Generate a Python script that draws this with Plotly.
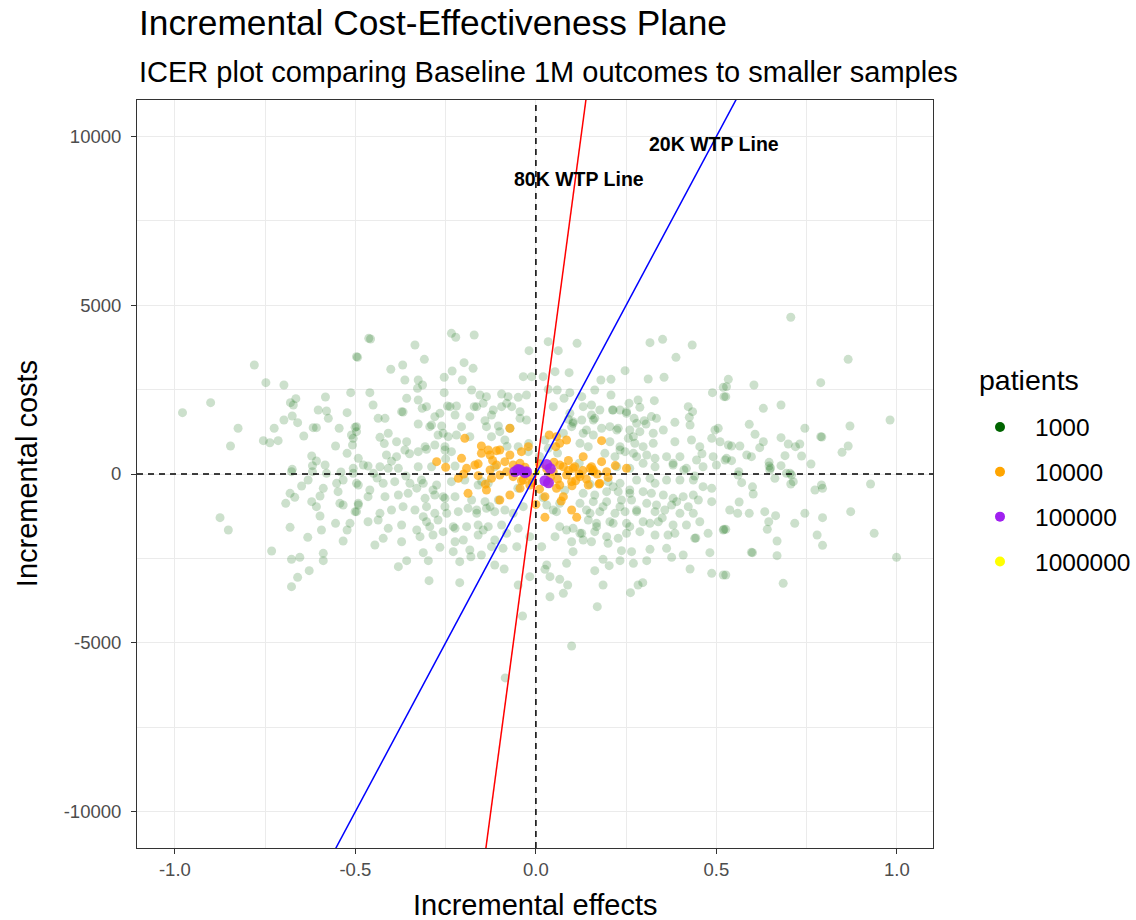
import plotly.graph_objects as go

# ---- simulated incremental outcomes, 1000-patient samples ----
effects_1000 = [
    -0.780, -0.748, -0.698, -0.901, -0.979, -0.497, -0.513, -0.583, -0.665, -0.680,
    -0.672, -0.603, -0.580, -0.575, -0.523, -0.675, -0.698, -0.660, -0.725, -0.825,
    -0.617, -0.608, -0.545, -0.501, -0.643, -0.511, -0.506, -0.755, -0.737, -0.714,
    -0.846, -0.555, -0.508, -0.523, -0.621, -0.608, -0.584, -0.619, -0.675, -0.506, -0.492,
    -0.463, -0.458, -0.335, -0.234, -0.222, -0.171, -0.494, -0.309, -0.019, -0.402, -0.369,
    -0.199, -0.174, -0.232, -0.254, -0.204, -0.363, -0.326, -0.314, -0.328,
    -0.035, -0.012, -0.460, -0.254, -0.178, -0.155, -0.137, -0.095, -0.077, -0.049, -0.026,
    -0.358, -0.326, -0.451, -0.315, -0.372, -0.368, -0.245, -0.220, -0.171, -0.146, -0.095, -0.067,
    -0.280, -0.224, -0.183, -0.123, -0.044, -0.437, -0.418, -0.497, -0.497,
    -0.326, -0.289, -0.261, -0.206, -0.141, -0.104, -0.072,
    -0.409, -0.432, -0.386, -0.358, -0.271, -0.243, -0.220, -0.183,
    -0.326, -0.303, -0.280, -0.252, -0.234, -0.123, -0.086, -0.049, -0.021,
    -0.414, -0.386, -0.363, -0.478, -0.465, -0.432, -0.409, -0.381, -0.326, -0.289, -0.224, -0.114,
    0.034, 0.114, 0.062, 0.316, 0.351, 0.433, 0.388,
    0.053, 0.092, 0.020, 0.247, 0.180, 0.208, 0.311, 0.355,
    0.034, 0.059, 0.094, 0.163, 0.208, 0.078, 0.127,
    0.283, 0.328, 0.489, 0.519, 0.521,
    0.154, 0.177, 0.258, 0.288, 0.422, 0.434, 0.425, 0.212, 0.233, 0.251,
    0.154, 0.163, 0.127, 0.103, 0.090, 0.272, 0.334, 0.305, 0.385,
    0.427, 0.496, 0.505, 0.182, 0.205, 0.228, 0.260,
    0.131, 0.159, 0.288, 0.325, 0.353,
    0.385, 0.431, 0.454, 0.510, 0.533, 0.487,
    0.122, 0.145, 0.205, 0.233, 0.256, 0.274, 0.297, 0.325,
    0.191, 0.219, 0.247, 0.279, 0.307, 0.330, 0.362, 0.399, 0.445, 0.491, 0.524,
    0.224, 0.260, 0.297, 0.330, 0.380, 0.417, 0.463, 0.500,
    0.099, 0.076, 0.025, 0.034,
    0.706, 0.865, 0.789, 0.533, 0.528, 0.526, 0.604,
    0.630, 0.679, 0.981, 0.870, 0.591, 0.607, 0.745, 0.789, 0.792,
    0.542, 0.565, 0.630, 0.620, 0.679, 0.699, 0.719, 0.731,
    0.865, 0.848, 0.584, 0.597, 0.528, 0.542, 0.690, 0.736,
    0.646, 0.646, 0.679, 0.762, 0.562, 0.704,
    0.560, 0.570, 0.648, 0.662, 0.694, 0.708, 0.706, 0.713,
    0.773, 0.791, 0.794, 0.927, 0.602,
    0.563, 0.537, 0.559, 0.591, 0.634, 0.664, 0.645, 0.641,
    0.717, 0.745, 0.794, 0.872, 0.937, 0.779, 0.794,
    0.668, 0.597, 0.600, 0.668, 0.526, 0.526, 0.685, 0.999,
    0.200, 0.233, 0.279, 0.316, 0.330, 0.362, 0.399, 0.436, 0.463, 0.487,
    0.131, 0.163, 0.196, 0.228, 0.260, 0.297, 0.320,
    0.353, 0.380, 0.408, 0.436, 0.450, 0.487,
    0.122, 0.159, 0.196, 0.237, 0.265, 0.307, 0.334, 0.376, 0.390, 0.422,
    0.066, 0.057, 0.030,
    0.150, 0.177, 0.219, 0.247, 0.279, 0.330, 0.357, 0.399, 0.436, 0.454,
    0.145, 0.168, 0.205, 0.251, 0.297, 0.316, 0.339, 0.380, 0.417,
    0.085, 0.103, 0.127, 0.163, 0.196, 0.228, 0.251, 0.288, 0.330, 0.366, 0.385, 0.440, 0.443, 0.477, 0.519,
    0.053, 0.099, 0.131, 0.154,
    0.016, 0.103, 0.237, 0.265, 0.316, 0.362, 0.376, 0.408, 0.482,
    0.030, 0.085, 0.186, 0.203, 0.233, 0.270, 0.307,
    0.025, 0.039, 0.066, 0.088, 0.163, 0.186, 0.427, 0.487, 0.519,
    0.039, 0.076, 0.170, 0.262, 0.283, 0.296,
    0.099, 0.521,
    -0.492, -0.460, -0.423, -0.391, -0.349, -0.317, -0.275, -0.234, -0.197, -0.160, -0.132,
    -0.465, -0.418, -0.381, -0.354, -0.307, -0.280, -0.252, -0.224, -0.178, -0.141, -0.104,
    -0.492, -0.497,
    -0.432, -0.400, -0.368, -0.335, -0.312, -0.280, -0.252, -0.215, -0.188, -0.164, -0.137, -0.114, -0.086,
    -0.465, -0.437, -0.409, -0.372, -0.330, -0.303, -0.271, -0.224, -0.192, -0.160, -0.132, -0.095, -0.049,
    -0.446, -0.423, -0.372, -0.321, -0.285, -0.257, -0.224, -0.201, -0.183, -0.160, -0.114, -0.053, -0.017,
    -0.266, -0.229, -0.151, -0.123, -0.091,
    -0.381, -0.358, -0.312, -0.298, -0.211, -0.114, -0.088,
    -0.296, -0.211, -0.049, -0.017,
    -0.037, -0.085,
    -0.875, -0.852, -0.732, -0.681, -0.677, -0.654, -0.660, -0.677, -0.628, -0.589, -0.589, -0.632, -0.594,
    -0.555, -0.534, -0.523, -0.515,
    -0.693, -0.681, -0.668, -0.649, -0.631, -0.589, -0.598, -0.621, -0.608, -0.598,
    -0.552, -0.548, -0.534, -0.506, -0.497, -0.543, -0.534, -0.501, -0.492,
    -0.677, -0.619, -0.580,
    -0.303, -0.266, -0.238, -0.294, -0.257, -0.307, -0.252, -0.312, -0.285, -0.257, -0.303, -0.247, -0.294, -0.229,
    0.214, 0.251, 0.279, 0.224, 0.270, 0.233, 0.270, 0.214, 0.260, 0.233, 0.279, 0.214, 0.260,
    -0.164, -0.118, -0.081, -0.044, -0.026, 0.048, 0.094, 0.131, 0.159, -0.137, -0.100, 0.103, 0.140,
    -0.164, -0.127, -0.063, -0.035, 0.048, 0.066, 0.140, 0.168, -0.146, -0.081, 0.122, 0.186,
    0.010, -0.050, 0.060, -0.020, 0.020, 0.120, -0.150, 0.080, -0.080, 0.150,
    -0.450, -0.440, -0.540, -0.400, -0.360, 0.410, 0.440, 0.380, 0.600, 0.650,
    -0.350, -0.330, 0.350, 0.320, -0.180, 0.200, -0.420, 0.460, -0.250, 0.300,
]
costs_1000 = [
    3230, 2705, 2637, 2113, 1817, 3476, 2409, 2282, 2231, 2113,
    2044, 1896, 1867, 1650, 1817, 1719, 1600, 1520, 1354, 1354,
    1372, 1372, 1354, 1383, 1126, 1156, 1057, 987, 927, 987,
    830, 830, 859, 612, 533, 385, 267, 247, 138, 168, 464,
    4020, 4000, 3822, 4168, 4050, 4118, 3457, 3397, 3654, 3102, 3230,
    3298, 3131, 3052, 2865, 2785, 2785, 2785, 2637, 2538,
    2883, 2883, 2409, 2409, 2489, 2341, 2291, 2370, 2291, 2272, 2341,
    2243, 2193, 2044, 1947, 1846, 1836, 2015, 2015, 1995, 2094, 1995, 1995,
    1699, 1748, 1699, 1748, 1650, 1650, 1650, 1403, 1254,
    1481, 1452, 1422, 1403, 1580, 1422, 1354,
    1206, 1087, 957, 957, 1156, 1106, 1156, 1106,
    661, 732, 859, 809, 661, 1106, 1007, 809, 661,
    563, 513, 711, 267, 237, 216, 168, 168, 216, 216, 237, 216,
    3921, 3871, 3654, 3891, 3990, 3822, 3457,
    3032, 3003, 2883, 3062, 2785, 2805, 2815, 2865,
    2508, 2489, 2409, 2489, 2341, 2243, 2291,
    2193, 2173, 2409, 2568, 2291,
    2044, 1896, 2094, 1975, 1995, 1846, 1679, 1896, 1896, 1846,
    1748, 1650, 1600, 1551, 1620, 1650, 1650, 1481, 1531,
    1452, 1304, 1354, 1354, 1403, 1354, 1304,
    1206, 1156, 1254, 1206, 1304,
    957, 1007, 809, 957, 859, 1057,
    909, 809, 957, 809, 1057, 909, 809, 909,
    612, 513, 661, 513, 563, 464, 513, 513, 415, 513, 415,
    216, 168, 316, 216, 267, 168, 216, 267,
    1403, 1206, 1007, 761,
    4643, 3397, 2706, 2805, 2587, 2291, 2637,
    1946, 2044, 1600, 1422, 1472, 1176, 1354, 1106, 1096,
    830, 830, 957, 780, 1077, 889, 809, 889,
    830, 642, 563, 513, 464, 395, 543, 533,
    346, 237, 247, 296, 69, 20,
    -30, -257, 119, -128, 20, -30, -296, -227,
    -474, -326, -424, -296, -593,
    -830, -1067, -1166, -1166, -1116, -1235, -1413, -1640,
    -1462, -1166, -1294, -1116, -1758, -1808, -2113,
    -1985, -2321, -2331, -2420, -1640, -2993, -3239, -2469,
    -227, -276, -178, -128, -276, -178, -178, -178, -375, -424,
    -573, -622, -523, -523, -474, -523, -573,
    -622, -721, -672, -622, -770, -820,
    -869, -820, -820, -770, -770, -869, -918, -918, -820, -968,
    -869, -1116, -918,
    -1166, -1116, -1166, -1116, -1116, -1116, -1067, -1166, -1166, -1413,
    -1363, -1462, -1413, -1462, -1413, -1462, -1413, -1511, -1511,
    -1659, -1610, -1758, -1709, -1857, -1906, -1758, -1709, -1808, -1808, -1758, -1906, -1896, -1758, -1659,
    -1857, -2006, -1956, -2006,
    -2153, -2301, -2272, -2301, -2232, -2202, -2469, -2400, -2331,
    -2696, -2647, -2528, -2716, -2568, -2647, -2568,
    -2824, -3042, -3121, -3289, -2864, -3289, -2815, -2943, -2993,
    -3635, -3536, -3931, -3516, -3289, -3220,
    -5096, -1640,
    -326, -474, -276, -227, -276, -178, -326, -227, -178, -326, -276,
    -672, -672, -622, -573, -721, -622, -721, -672, -770, -820, -770,
    -869, -1116,
    -1166, -1067, -968, -1067, -1264, -1166, -968, -1116, -1017, -1166, -1017, -1116, -1067,
    -1413, -1363, -1610, -1511, -1659, -1413, -1363, -1610, -1561, -1511, -1561, -1511, -1610,
    -2104, -1906, -2006, -1857, -1808, -1709, -2006, -1956, -2252, -1808, -1956, -2153, -1857,
    -2173, -2301, -2400, -2153, -2202,
    -2745, -2568, -2331, -2568, -2597, -2696, -2815,
    -3160, -3220, -3289, -3042,
    -4208, -6040,
    -1294, -1659, -2282, -1580, -2528, -2469, -3062, -3338, -2864, -2351, -2568, -1877, -1659,
    -1462, -1985, -1659, -1462,
    -869, -573, -691, -356, -178, -424, -652, -820, -968, -1245,
    -276, -523, -178, 20, -276, -869, -918, -1116, -918,
    69, 69, 20,
    1995, 1797, 1995, 1403, 1206, 809, 711, -276, -474, -672, -968, -1166, -1561, -1561,
    1896, 1797, 1501, 1304, 1106, 711, 612, -375, -573, -968, -1067, -1462, -1561,
    1995, 1896, 2094, 1846, 1600, 1995, 1797, 1995, 1600, 1403, 1254, 1501, 1304,
    -1067, -968, -1166, -968, -1067, -1561, -1067, -1561, -1659, -1758, -1758, -968,
    520, -420, 620, 900, -700, 320, -220, -480, 820, -300,
    20, -120, 60, 380, -60, 120, -60, 320, -380, 180,
    600, -420, -1300, 1700, -2450, -2050, 900, 600, 450, 1580,
]

# ---- 10000-patient samples ----
effects_10000 = [
    -0.072, -0.197, 0.182, 0.057, 0.085, 0.066,
    -0.151, -0.132, -0.109, -0.127, -0.151, -0.040, -0.072,
    -0.275, -0.206, -0.169, -0.192,
    -0.086, -0.109, -0.063, -0.044, -0.081, -0.100, -0.127, -0.123, -0.063,
    0.131, 0.182, 0.154, 0.108, 0.076, 0.048, 0.085, 0.122, 0.159, 0.196, 0.251,
    -0.215, -0.188, -0.137, -0.100, -0.072, -0.044, -0.017,
    0.025, 0.076, 0.034, 0.066, 0.099, 0.145, 0.177,
    0.099, 0.113, 0.025, -0.017, -0.035,
    0.175, 0.057, 0.037, 0.055,
    0.066, 0.103, 0.150, 0.159, -0.021, -0.100,
    -0.030, 0.010, 0.040, 0.090, 0.120, -0.010, 0.060, 0.100, -0.050, 0.030, 0.140, 0.170, -0.160, -0.140,
    -0.120, -0.160, -0.040, 0.010, 0.050, 0.090, 0.110, 0.130, 0.200, 0.220, -0.200, -0.250, 0.070, 0.000,
]
costs_10000 = [
    1354, 1057, 987, 1106, 1007, 909,
    830, 711, 691, 563, 612, 661, 563,
    365, 464, 267, 168,
    365, 267, 267, 316, 69, -30, 119, -128, -79,
    513, 365, 216, 216, 216, 69, -30, -79, 69, 69, 168,
    -128, -573, -474, -770, -622, -424, -326,
    -672, -672, -276, -326, -227, -326, -276,
    -1067, -1284, -1284, -79, -178,
    -296, -424, 1156, 809,
    267, 168, 168, 119, 809, 711,
    200, 300, -100, 100, 0, -250, -150, -350, 150, 150, -150, 0, -50, -300,
    400, 300, -200, -450, 350, 400, -200, 100, -100, 250, 0, 200, -800, -900,
]

# ---- 100000-patient samples ----
effects_100000 = [-0.044, -0.026, -0.058, -0.050, -0.030, 0.030, 0.040, 0.025, 0.035]
costs_100000 = [119, 69, 69, 130, 40, 280, 160, -200, -260]

# ---- 1000000-patient baseline ----
effects_1000000 = [0.003]
costs_1000000 = [60]

# willingness-to-pay thresholds (cost per unit of effect)
wtp_values = [80000, 20000]
wtp_labels = ["80K WTP Line", "20K WTP Line"]
wtp_colors = ["red", "blue"]
wtp_label_x = [0.119, 0.493]
wtp_label_y = [8726, 9778]

FONT = "Liberation Sans, Arial, sans-serif"
GREEN, ORANGE, PURPLE, YELLOW = "#006400", "#FFA500", "#A020F0", "#FFFF00"

fig = go.Figure()

fig.add_trace(go.Scatter(
    x=effects_1000, y=costs_1000, mode="markers", showlegend=False,
    marker=dict(color=GREEN, size=9, opacity=0.2, line=dict(width=0)),
    hoverinfo="skip"))
fig.add_trace(go.Scatter(
    x=effects_10000, y=costs_10000, mode="markers", showlegend=False,
    marker=dict(color=ORANGE, size=9, opacity=0.7, line=dict(width=0)),
    hoverinfo="skip"))
fig.add_trace(go.Scatter(
    x=effects_100000, y=costs_100000, mode="markers", showlegend=False,
    marker=dict(color=PURPLE, size=11, opacity=0.85, line=dict(width=0)),
    hoverinfo="skip"))
fig.add_trace(go.Scatter(
    x=effects_1000000, y=costs_1000000, mode="markers", showlegend=False,
    marker=dict(color=YELLOW, size=6, opacity=1, line=dict(width=0)),
    hoverinfo="skip"))

# legend keys (solid colours)
legend_names = ["1000", "10000", "100000", "1000000"]
legend_colors = [GREEN, ORANGE, PURPLE, YELLOW]
for name, col in zip(legend_names, legend_colors):
    fig.add_trace(go.Scatter(
        x=[None], y=[None], mode="markers", name=name, legendgroup=name,
        marker=dict(color=col, size=10)))

# WTP threshold lines through the origin
line_x = [-1.3, 1.3]
for w, col in zip(wtp_values, wtp_colors):
    fig.add_trace(go.Scatter(
        x=line_x, y=[w * v for v in line_x], mode="lines", showlegend=False,
        line=dict(color=col, width=1.5), hoverinfo="skip"))

# quadrant reference lines
fig.add_hline(y=0, line=dict(color="black", width=1.5, dash="6px,5px"))
fig.add_vline(x=0, line=dict(color="black", width=1.5, dash="6px,5px"))

for txt, lx, ly in zip(wtp_labels, wtp_label_x, wtp_label_y):
    fig.add_annotation(x=lx, y=ly, text=f"<b>{txt}</b>", showarrow=False,
                       font=dict(family=FONT, size=19.5, color="black"))

# titles
fig.add_annotation(xref="paper", yref="paper", x=0, y=1.104, xanchor="left", yanchor="middle",
                   text="Incremental Cost-Effectiveness Plane", showarrow=False,
                   font=dict(family=FONT, size=35.3, color="black"))
fig.add_annotation(xref="paper", yref="paper", x=0, y=1.037, xanchor="left", yanchor="middle",
                   text="ICER plot comparing Baseline 1M outcomes to smaller samples", showarrow=False,
                   font=dict(family=FONT, size=29, color="black"))
fig.add_annotation(xref="paper", yref="paper", x=0.5, y=-0.0762, xanchor="center", yanchor="middle",
                   text="Incremental effects", showarrow=False,
                   font=dict(family=FONT, size=29, color="black"))
fig.add_annotation(xref="paper", yref="paper", x=-0.138, y=0.5, xanchor="center", yanchor="middle",
                   text="Incremental costs", showarrow=False, textangle=-90,
                   font=dict(family=FONT, size=29, color="black"))
# legend heading
fig.add_annotation(xref="paper", yref="paper", x=1.0553, y=0.6257, xanchor="left", yanchor="middle",
                   text="patients", showarrow=False,
                   font=dict(family=FONT, size=28.5, color="black"))

grid = "#EBEBEB"
fig.update_layout(
    width=1136, height=920,
    margin=dict(l=137, r=203, t=100, b=72, autoexpand=False),
    paper_bgcolor="white", plot_bgcolor="white",
    font=dict(family=FONT),
    xaxis=dict(range=[-1.105, 1.10], tickmode="array",
               tickvals=[-1.0, -0.5, 0.0, 0.5, 1.0],
               ticktext=["-1.0", "-0.5", "0.0", "0.5", "1.0"],
               showgrid=True, gridcolor=grid, gridwidth=1.2, zeroline=False,
               minor=dict(dtick=0.25, tick0=0, showgrid=True, gridcolor=grid, gridwidth=0.6),
               showline=True, mirror=True, linecolor="#333333", linewidth=1,
               ticks="outside", ticklen=5, tickcolor="#333333",
               tickfont=dict(family=FONT, size=18.5, color="#4D4D4D")),
    yaxis=dict(range=[-11080, 11080], tickmode="array",
               tickvals=[-10000, -5000, 0, 5000, 10000],
               ticktext=["-10000", "-5000", "0", "5000", "10000"],
               showgrid=True, gridcolor=grid, gridwidth=1.2, zeroline=False,
               minor=dict(dtick=2500, tick0=0, showgrid=True, gridcolor=grid, gridwidth=0.6),
               showline=True, mirror=True, linecolor="#333333", linewidth=1,
               ticks="outside", ticklen=5, tickcolor="#333333", ticklabelstandoff=6,
               tickfont=dict(family=FONT, size=18.5, color="#4D4D4D")),
    legend=dict(font=dict(family=FONT, size=24.5, color="black"),
                xref="container", yref="container",
                x=965 / 1136, xanchor="left", y=1 - 404.5 / 920, yanchor="top",
                traceorder="grouped", tracegroupgap=10, itemsizing="trace", itemwidth=60,
                bgcolor="rgba(0,0,0,0)"),
)

fig.write_html("out.html")
